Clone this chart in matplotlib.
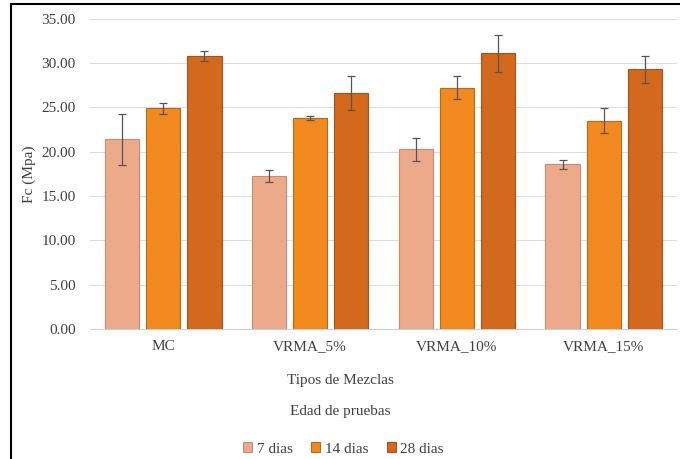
import matplotlib

matplotlib.use("Agg")
import matplotlib.pyplot as plt
import numpy as np
from matplotlib.patches import Rectangle

plt.rcParams["font.family"] = ["Liberation Serif", "DejaVu Serif"]

# ── Data ──────────────────────────────────────────────────────────────────────
mezclas = ["MC", "VRMA_5%", "VRMA_10%", "VRMA_15%"]
series = ["7 dias", "14 dias", "28 dias"]
fc_7 = [21.4, 17.3, 20.3, 18.6]
fc_14 = [24.9, 23.8, 27.2, 23.5]
fc_28 = [30.8, 26.6, 31.1, 29.3]
err_7 = [2.9, 0.7, 1.3, 0.5]
err_14 = [0.6, 0.2, 1.3, 1.4]
err_28 = [0.6, 1.9, 2.1, 1.5]

colors = ["#EDAA8A", "#F2891F", "#D3691D"]
edges = ["#C98C70", "#B86A1A", "#A5521A"]
txt = "#404040"

fig = plt.figure(figsize=(6.8, 4.59), dpi=100)
ax = fig.add_axes([0.132, 0.283, 0.864, 0.676])

x = np.arange(len(mezclas))
width = 0.235
step = 0.28
for i, (vals, errs) in enumerate(zip([fc_7, fc_14, fc_28], [err_7, err_14, err_28])):
    ax.bar(
        x + (i - 1) * step,
        vals,
        width,
        yerr=errs,
        color=colors[i],
        edgecolor=edges[i],
        linewidth=0.8,
        label=series[i],
        error_kw=dict(ecolor="#555555", elinewidth=0.9, capsize=3, capthick=0.9),
        zorder=3,
    )

ax.set_xlim(-0.5, len(mezclas) - 0.5)
ax.set_ylim(0, 35)
yt = np.arange(0, 35.1, 5)
ax.set_yticks(yt)
ax.set_yticklabels([f"{v:.2f}" for v in yt], fontsize=11, color=txt)
ax.set_xticks(x)
ax.set_xticklabels(mezclas, fontsize=11, color=txt)
ax.tick_params(axis="y", length=0, pad=10)
ax.tick_params(axis="x", length=0, pad=8)
ax.grid(axis="y", color="#DDDDDD", lw=0.8, zorder=0)
for s in ("top", "right", "left"):
    ax.spines[s].set_visible(False)
ax.spines["bottom"].set_color("#D0D0D0")

ax.set_ylabel("Fc (Mpa)", fontsize=11, color=txt, labelpad=4)
fig.text(0.5, 0.172, "Tipos de Mezclas", ha="center", va="center", fontsize=11, color=txt)
fig.text(0.5, 0.103, "Edad de pruebas", ha="center", va="center", fontsize=11, color=txt)
fig.legend(
    loc="center",
    bbox_to_anchor=(0.505, 0.022),
    ncol=3,
    frameon=False,
    fontsize=11,
    handlelength=0.6,
    handleheight=0.6,
    handletextpad=0.3,
    columnspacing=1.2,
    labelcolor=txt,
)

# outer frame
fig.add_artist(
    Rectangle((11 / 680, -0.05), 1.1, (459 - 4) / 459 + 0.05, transform=fig.transFigure,
              fill=False, edgecolor="black", lw=1.5)
)

fig.savefig("out.png", dpi=100)
